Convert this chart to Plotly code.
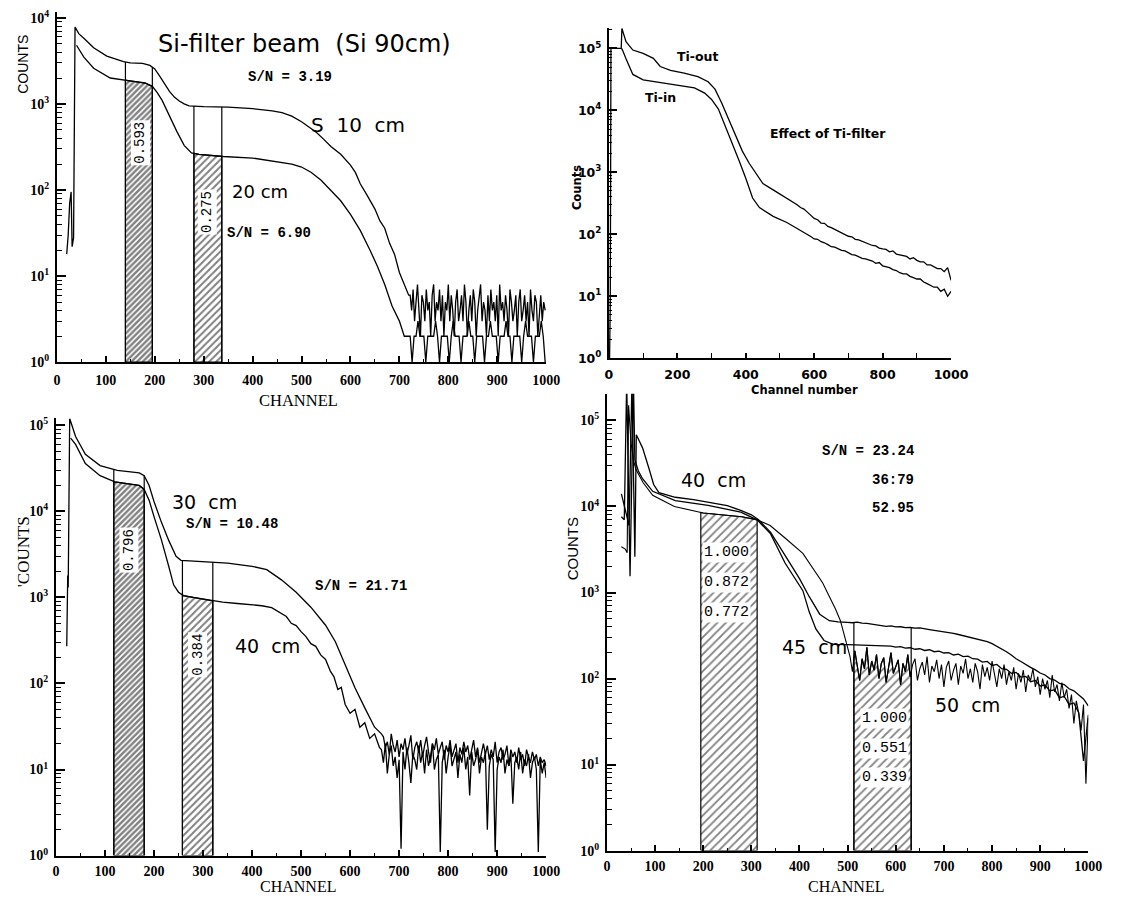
import numpy as np
import plotly.graph_objects as go

W, H = 1122, 905

# ======================= DATA =======================
# --- Top-left: Si-filter beam, S 10 cm (upper) and 20 cm (lower)
TL10_CH = [20, 23, 26, 29, 31, 34, 37, 40, 45, 55, 75, 102, 136, 150, 175, 190, 200, 210, 220, 230,
           240, 250, 260, 270, 300, 350, 400, 440, 460, 480, 500, 515, 530, 545, 560, 580, 600, 610,
           620, 635, 650, 660, 670, 680, 690, 700, 710, 719]
TL10_CT = [18, 30, 70, 95, 22, 28, 7800, 7200, 6500, 5800, 4500, 3600, 3100, 3000, 2950, 2800, 2550,
           2100, 1700, 1400, 1200, 1080, 1000, 950, 930, 920, 880, 830, 790, 720, 620, 540, 470, 390,
           320, 260, 195, 160, 118, 85, 60, 44, 36, 24, 18, 11, 8, 6]
TL10_TAIL_CH = list(range(722, 1001, 3))
TL10_TAIL_CT = [6, 4, 7, 3, 5, 8, 4, 2, 6, 5,
                3, 7, 4, 5, 2, 6, 8, 3, 5, 4,
                7, 3, 6, 2, 5, 4, 8, 3, 6, 4,
                2, 5, 7, 3, 4, 6, 3, 8, 5, 2,
                4, 6, 3, 7, 5, 2, 4, 6, 8, 3,
                5, 4, 2, 6, 3, 7, 4, 5, 3, 6,
                2, 8, 4, 5, 3, 6, 4, 2, 7, 5,
                3, 4, 6, 2, 5, 7, 3, 4, 6, 3,
                5, 2, 7, 4, 3, 6, 5, 2, 4, 6,
                3, 5, 4]

TL20_CH = [40, 55, 75, 109, 149, 180, 195, 205, 215, 230, 245, 260, 275, 290, 340, 400, 450, 480,
           500, 520, 540, 560, 580, 600, 620, 640, 655, 670, 685, 700, 710]
TL20_CT = [4800, 3500, 2600, 2000, 1850, 1750, 1600, 1350, 1100, 720, 480, 330, 270, 260, 245, 235,
           215, 200, 185, 160, 130, 100, 75, 52, 34, 20, 13, 8, 4.5, 3, 2]
TL20_TAIL_CH = list(range(714, 1001, 4))
TL20_TAIL_CT = [2, 2, 2, 1, 2, 2, 3, 2, 2, 2,
                1, 2, 2, 2, 2, 3, 2, 1, 2, 2,
                2, 2, 1, 2, 3, 2, 2, 2, 1, 2,
                2, 2, 3, 2, 2, 1, 2, 2, 2, 2,
                1, 2, 2, 3, 2, 2, 2, 1, 2, 2,
                2, 3, 2, 2, 1, 2, 2, 2, 2, 1,
                2, 3, 2, 2, 2, 1, 2, 2, 2, 3,
                2, 1]
TL_WINDOWS = [(140, 195), (280, 337)]

# --- Top-right: effect of Ti-filter
TR_OUT_CH = [2, 4, 6, 20, 36, 38, 50, 70, 100, 130, 150, 180, 220, 260, 290, 310, 330, 350, 370,
             390, 410, 430, 450, 480, 520, 550]
TR_OUT_CT = [1, 8, 1e5, 1e5, 1e5, 2.1e5, 1.28e5, 9.4e4, 8.3e4, 6.9e4, 5.1e4, 4.4e4, 4.0e4, 3.5e4,
             2.9e4, 2.2e4, 1.3e4, 7.2e3, 3.9e3, 2.2e3, 1.4e3, 960, 660, 520, 385, 300]
TR_OUT_TAIL_CH = list(range(560, 1001, 10))
TR_OUT_TAIL_CT = [270, 255, 228, 205, 180, 172, 152, 150, 134, 128, 120, 111, 106, 100, 93, 91, 83,
                  81, 77, 73, 71, 66, 65, 60, 58, 57, 52, 54, 48, 47, 46, 44, 40, 42, 38, 36, 36,
                  32, 32, 30, 28, 28, 25, 29, 18]
TR_IN_CH = [37, 40, 50, 60, 70, 100, 150, 200, 250, 280, 300, 320, 340, 360, 380, 400, 420, 440,
            480, 520, 550]
TR_IN_CT = [1e5, 9.3e4, 6.8e4, 5.1e4, 3.8e4, 3.1e4, 2.8e4, 2.6e4, 2.3e4, 1.9e4, 1.5e4, 1.05e4,
            5.6e3, 3.1e3, 1.57e3, 800, 385, 270, 195, 155, 125]
TR_IN_TAIL_CH = list(range(560, 1001, 10))
TR_IN_TAIL_CT = [115, 105, 100, 92, 84, 83, 76, 73, 68, 63, 62, 58, 55, 54, 50, 47, 46, 43, 41, 40,
                 38, 37, 34, 35, 31, 30, 29, 27, 26, 24, 23, 23, 21, 20, 19, 19, 17, 16, 15, 14,
                 14, 12, 13, 10, 12]

# --- Bottom-left: 30 cm (upper) and 40 cm (lower)
BL30_CH = [22, 24, 25, 28, 40, 60, 90, 125, 150, 170, 180, 190, 200, 215, 230, 245, 255, 300, 350,
           400, 430, 460, 490, 520, 550, 570, 590, 610, 630, 650, 664]
BL30_CT = [270, 1800, 1300, 1.2e5, 7.4e4, 4.6e4, 3.4e4, 3.0e4, 2.9e4, 2.8e4, 2.6e4, 2.0e4, 1.3e4,
           7.5e3, 4.6e3, 3.0e3, 2.7e3, 2.6e3, 2.5e3, 2.3e3, 2.1e3, 1.6e3, 1.15e3, 770, 475, 305,
           165, 89, 52, 31, 26]
BL30_TAIL_CH = list(range(668, 1001, 4))
BL30_TAIL_CT = [24, 18, 21, 15, 26, 19, 16, 22, 14, 20,
                17, 23, 15, 19, 25, 13, 18, 21, 16, 22,
                14, 19, 24, 16, 12, 20, 17, 23, 15, 18,
                21, 13, 19, 16, 22, 14, 17, 20, 12, 18,
                15, 21, 16, 19, 13, 17, 22, 14, 18, 12,
                16, 20, 15, 19, 13, 17, 14, 21, 12, 16,
                18, 13, 15, 19, 11, 17, 14, 16, 12, 18,
                13, 15, 11, 17, 14, 12, 16, 13, 15, 11,
                14, 12, 13, 11]
BL40_CH = [30, 40, 60, 90, 120, 150, 170, 180, 190, 200, 215, 230, 240, 250, 260, 280, 300, 320,
           340, 370, 400, 420, 440, 460, 470, 480, 490, 500, 510, 520, 530, 540, 550, 560, 567,
           575, 582, 590, 600, 610, 620, 630, 640, 650, 660]
BL40_CT = [7.1e4, 6.0e4, 3.6e4, 2.6e4, 2.2e4, 2.1e4, 2.0e4, 1.8e4, 1.35e4, 8.7e3, 4.7e3, 2.3e3,
           1.4e3, 1.15e3, 1.05e3, 1.0e3, 960, 910, 880, 850, 820, 800, 760, 640, 600, 500, 470,
           400, 350, 290, 270, 215, 190, 138, 120, 85, 90, 57, 45, 50, 31, 35, 23, 26, 18]
BL40_TAIL_CH = list(range(664, 1001, 4))
BL40_TAIL_CT = [17, 12, 20, 9, 15, 19, 11, 14, 8, 13,
                1.2, 16, 10, 18, 12, 7, 15, 13, 10, 19,
                12, 16, 9, 17, 11, 14, 20, 10, 13, 15,
                1.1, 12, 17, 9, 14, 19, 11, 13, 16, 8,
                15, 12, 18, 10, 14, 5, 16, 11, 13, 17,
                9, 14, 12, 16, 2, 11, 15, 13, 1.1, 10,
                14, 12, 17, 9, 13, 11, 15, 4, 12, 14,
                10, 16, 9, 13, 11, 15, 8, 12, 14, 10,
                1.1, 13, 9, 12, 8]
BL_WINDOWS = [(118, 180), (258, 320)]

# --- Bottom-right: 40 cm, 45 cm, 50 cm
BR40_CH = [30, 36, 41, 46, 52, 58, 61, 74, 87, 97, 108, 142, 180, 210, 250, 278, 300, 315, 340,
           370, 400, 420, 442, 462, 480, 500]
BR40_CT = [1.4e4, 1.0e4, 7.5e3, 6e3, 2.8e5, 2.6e3, 6.8e4, 4.8e4, 2.8e4, 1.8e4, 1.45e4, 1.28e4,
           1.2e4, 1.12e4, 1.02e4, 9.0e3, 8.0e3, 7.0e3, 5.0e3, 2.7e3, 1.45e3, 900, 560, 470, 455, 450]
BR40_TAIL_CH = list(range(510, 1001, 10))
BR40_TAIL_CT = [445, 452, 440, 438, 430, 425, 418, 405, 410, 398, 400, 390, 392, 385, 388, 376,
                370, 362, 356, 350, 342, 335, 325, 315, 305, 298, 290, 280, 268, 255, 238, 222,
                205, 188, 170, 158, 145, 135, 126, 116, 110, 100, 96, 88, 85, 76, 72, 64, 58, 48]
BR45_CH = [30, 36, 41, 48, 55, 58, 65, 74, 95, 142, 210, 278, 312, 340, 370, 407, 420, 434, 451,
           470, 500, 520, 550, 585]
BR45_CT = [7.6e3, 7e3, 2.8e5, 1.55e3, 2.8e5, 3.5e4, 2.6e4, 2.1e4, 1.5e4, 1.17e4, 1.03e4, 8.6e3,
           7.0e3, 4.8e3, 2.2e3, 1.05e3, 600, 378, 277, 250, 248, 245, 242, 240]
BR45_TAIL_CH = list(range(590, 1001, 10))
BR45_TAIL_CT = [238, 232, 235, 226, 228, 219, 222, 212, 216, 205, 208, 198, 200, 188, 192, 180,
                182, 170, 168, 155, 158, 142, 146, 130, 128, 115, 118, 104, 106, 92, 95, 82, 84,
                72, 74, 60, 62, 50, 52, 40, 11, 38]
BR50_CH = [30, 38, 42, 45, 50, 55, 60, 75, 95, 140, 200, 250, 280, 312, 339, 370, 407, 448, 475,
           485, 497, 502]
BR50_CT = [3.4e3, 3.2e3, 2.9e3, 1.5e5, 5.5e4, 3.5e4, 2.7e4, 1.9e4, 1.35e4, 1.0e4, 8.4e3, 7.9e3,
           7.6e3, 7.0e3, 6.0e3, 4.3e3, 2.85e3, 1.3e3, 640, 470, 265, 200]
BR50_TAIL_CH = list(range(505, 1001, 5))
BR50_TAIL_CT = [180, 120, 210, 140, 95, 170, 130, 230, 110, 160,
                125, 190, 100, 150, 175, 90, 140, 200, 115, 135,
                165, 85, 150, 120, 190, 105, 145, 170, 95, 130,
                155, 110, 180, 90, 140, 120, 165, 100, 145, 80,
                135, 160, 95, 125, 150, 85, 140, 115, 170, 100,
                130, 90, 150, 120, 75, 145, 105, 135, 95, 160,
                110, 80, 130, 100, 145, 85, 120, 95, 135, 75,
                115, 90, 125, 70, 110, 95, 130, 80, 105, 65,
                100, 75, 95, 60, 110, 70, 85, 55, 90, 60,
                75, 45, 65, 30, 55, 40, 25, 50, 6, 35]
BR_WINDOWS = [(195, 312), (513, 632)]

X_TICKS = list(range(0, 1001, 100))
TR_X_TICKS = list(range(0, 1001, 200))


def join(a_ch, a_ct, b_ch, b_ct):
    assert len(a_ch) == len(a_ct) and len(b_ch) == len(b_ct)
    return list(a_ch) + list(b_ch), list(a_ct) + list(b_ct)


TL10 = join(TL10_CH, TL10_CT, TL10_TAIL_CH, TL10_TAIL_CT)
TL20 = join(TL20_CH, TL20_CT, TL20_TAIL_CH, TL20_TAIL_CT)
TROUT = join(TR_OUT_CH, TR_OUT_CT, TR_OUT_TAIL_CH, TR_OUT_TAIL_CT)
TRIN = join(TR_IN_CH, TR_IN_CT, TR_IN_TAIL_CH, TR_IN_TAIL_CT)
BL30 = join(BL30_CH, BL30_CT, BL30_TAIL_CH, BL30_TAIL_CT)
BL40 = join(BL40_CH, BL40_CT, BL40_TAIL_CH, BL40_TAIL_CT)
BR40 = join(BR40_CH, BR40_CT, BR40_TAIL_CH, BR40_TAIL_CT)
BR45 = join(BR45_CH, BR45_CT, BR45_TAIL_CH, BR45_TAIL_CT)
BR50 = join(BR50_CH, BR50_CT, BR50_TAIL_CH, BR50_TAIL_CT)

# ======================= FIGURE =======================
SERIF = "Liberation Serif"
SANS = "Liberation Sans"
DEJAVU = "DejaVu Sans"
MONO = "Liberation Mono"

fig = go.Figure()


def curve(series, xa, ya, width=1.3):
    fig.add_trace(go.Scatter(x=series[0], y=series[1], mode="lines",
                             line=dict(color="black", width=width),
                             xaxis=xa, yaxis=ya, showlegend=False, hoverinfo="skip"))


def top_at(series, c):
    ch = np.asarray(series[0], float)
    lg = np.log10(np.asarray(series[1], float))
    return float(10 ** np.interp(c, ch, lg))


def hatch(series, a, b, xa, ya, size, solidity):
    ch = np.asarray(series[0], float)
    ct = np.asarray(series[1], float)
    inside = (ch > a) & (ch < b)
    xs = [a, a] + ch[inside].tolist() + [b, b, a]
    ys = [1, top_at(series, a)] + ct[inside].tolist() + [top_at(series, b), 1, 1]
    fig.add_trace(go.Scatter(x=xs, y=ys, mode="lines", fill="toself", fillcolor="white",
                             fillpattern=dict(shape="/", fgcolor="black", bgcolor="white",
                                              size=size, solidity=solidity),
                             line=dict(color="black", width=1.2),
                             xaxis=xa, yaxis=ya, showlegend=False, hoverinfo="skip"))


def edge(series, c, xa, ya):
    fig.add_trace(go.Scatter(x=[c, c], y=[1, top_at(series, c)], mode="lines",
                             line=dict(color="black", width=1.2),
                             xaxis=xa, yaxis=ya, showlegend=False, hoverinfo="skip"))


# hatched windows (drawn first)
hatch(TL20, *TL_WINDOWS[0], "x", "y", 4, 0.6)
hatch(TL20, *TL_WINDOWS[1], "x", "y", 5, 0.4)
for a, b in TL_WINDOWS:
    edge(TL10, a, "x", "y")
    edge(TL10, b, "x", "y")

hatch(BL40, *BL_WINDOWS[0], "x3", "y3", 4, 0.6)
hatch(BL40, *BL_WINDOWS[1], "x3", "y3", 5, 0.4)
for a, b in BL_WINDOWS:
    edge(BL30, a, "x3", "y3")
    edge(BL30, b, "x3", "y3")

hatch(BR50, *BR_WINDOWS[0], "x4", "y4", 6, 0.3)
hatch(BR50, *BR_WINDOWS[1], "x4", "y4", 6, 0.3)
edge(BR40, BR_WINDOWS[1][0], "x4", "y4")
edge(BR40, BR_WINDOWS[1][1], "x4", "y4")

# spectra
curve(TL10, "x", "y")
curve(TL20, "x", "y")
curve(TROUT, "x2", "y2")
curve(TRIN, "x2", "y2")
curve(BL30, "x3", "y3")
curve(BL40, "x3", "y3")
curve(BR40, "x4", "y4")
curve(BR45, "x4", "y4")
curve(BR50, "x4", "y4", width=1.1)


# ---------------- axes ----------------
def px_dom_x(x0, x1):
    return [x0 / W, x1 / W]


def px_dom_y(ytop, ybot):
    return [1 - ybot / H, 1 - ytop / H]


def xaxis(dom, anchor, ticks_major, minor_vals, font, ticklen=6, minorlen=3, standoff=4):
    return dict(domain=dom, anchor=anchor, range=[0, 1000], tickmode="array",
                tickvals=ticks_major, ticktext=[str(v) for v in ticks_major],
                ticks="inside", ticklen=ticklen, tickwidth=1.5, tickcolor="black",
                showline=True, linecolor="black", linewidth=2, showgrid=False, zeroline=False,
                tickfont=font, ticklabelstandoff=standoff,
                minor=dict(tickvals=minor_vals, ticks="inside", ticklen=minorlen, tickwidth=1.2,
                           tickcolor="black", showgrid=False))


def yaxis(dom, anchor, top, font, ticklen=9, minorlen=5):
    decades = list(range(0, int(np.floor(top)) + 1))
    minor_vals = [m * 10 ** d for d in decades for m in range(2, 10) if np.log10(m * 10 ** d) <= top]
    return dict(type="log", domain=dom, anchor=anchor, range=[0, top], tickmode="array",
                tickvals=[10 ** d for d in decades],
                ticktext=[f"10<sup>{d}</sup>" for d in decades],
                ticks="inside", ticklen=ticklen, tickwidth=1.5, tickcolor="black",
                showline=True, linecolor="black", linewidth=2, showgrid=False, zeroline=False,
                tickfont=font, ticklabelstandoff=3,
                minor=dict(tickvals=minor_vals, ticks="inside", ticklen=minorlen, tickwidth=1,
                           tickcolor="black", showgrid=False))


serif_tick = dict(family=SERIF, size=14, color="black", weight="bold")
sans_tick = dict(family=DEJAVU, size=12.5, color="black", weight="bold")
minor50 = list(range(50, 1000, 100))
minor100 = list(range(100, 1000, 200))

fig.update_layout(
    width=W, height=H, autosize=False, margin=dict(l=0, r=0, t=0, b=0),
    paper_bgcolor="white", plot_bgcolor="white", showlegend=False,
    xaxis=xaxis(px_dom_x(54, 553), "y", X_TICKS, minor50, serif_tick),
    yaxis=yaxis(px_dom_y(8, 363), "x", 4.069, serif_tick),
    xaxis2=xaxis(px_dom_x(617, 966), "y2", TR_X_TICKS, minor100, sans_tick, ticklen=5, minorlen=5),
    yaxis2=yaxis(px_dom_y(24, 359), "x2", 5.334, sans_tick, ticklen=8, minorlen=3),
    xaxis3=xaxis(px_dom_x(53, 553), "y3", X_TICKS, minor50, serif_tick, standoff=2),
    yaxis3=yaxis(px_dom_y(420, 863), "x3", 5.08, serif_tick),
    xaxis4=xaxis(px_dom_x(615, 1106), "y4", X_TICKS, minor50, serif_tick, standoff=2),
    yaxis4=yaxis(px_dom_y(395, 858), "x4", 5.31, serif_tick),
)

NB = "\u00a0"
ann = []


def t(text, x, y, xref, yref, size, family, bold=False, angle=0, bg=None, xanchor="center"):
    d = dict(text=text, x=x, y=y, xref=xref, yref=yref, showarrow=False, textangle=angle,
             xanchor=xanchor, yanchor="middle",
             font=dict(family=family, size=size, color="black", weight="bold" if bold else "normal"))
    if bg:
        d.update(bgcolor=bg, borderpad=1)
    ann.append(d)


# top-left
t(f"Si-filter beam{NB}{NB}(Si 90cm)", 507, 3.70, "x", "y", 24, DEJAVU)
t("S/N = 3.19", 477, 3.31, "x", "y", 14, MONO, bold=True)
t(f"S{NB}{NB}10{NB}{NB}cm", 616, 2.76, "x", "y", 20, DEJAVU)
t("20 cm", 415, 1.98, "x", "y", 18, DEJAVU)
t("S/N = 6.90", 433, 1.50, "x", "y", 14, MONO, bold=True)
t("0.593", 170, 2.55, "x", "y", 14, MONO, angle=-90, bg="white")
t("0.275", 308, 1.74, "x", "y", 14, MONO, angle=-90, bg="white")
t("COUNTS", 20 / W, 1 - 61 / H, "paper", "paper", 14, SANS, angle=-90)
t("CHANNEL", 493, 1 - 402 / H, "x", "paper", 16.5, SERIF)

# top-right
t("Ti-out", 258, 4.87, "x2", "y2", 12.5, DEJAVU, bold=True)
t("Ti-in", 151, 4.21, "x2", "y2", 12.5, DEJAVU, bold=True)
t("Effect of Ti-filter", 641, 3.62, "x2", "y2", 12.5, DEJAVU, bold=True)
t("Channel number", 571, 1 - 391 / H, "x2", "paper", 11.5, DEJAVU, bold=True)
t("Counts", 584 / W, 1 - 186 / H, "paper", "paper", 11.5, DEJAVU, bold=True, angle=-90)

# bottom-left
t(f"30{NB}{NB}cm", 302, 4.11, "x3", "y3", 19, DEJAVU)
t("S/N = 10.48", 360, 3.85, "x3", "y3", 14, MONO, bold=True)
t("S/N = 21.71", 623, 3.13, "x3", "y3", 14, MONO, bold=True)
t(f"40{NB}{NB}cm", 431, 2.43, "x3", "y3", 19, DEJAVU)
t("0.796", 149, 3.55, "x3", "y3", 14, MONO, angle=-90, bg="white")
t("0.384", 289, 2.33, "x3", "y3", 14, MONO, angle=-90, bg="white")
t("'COUNTS", 20 / W, 1 - 555 / H, "paper", "paper", 17, SERIF, angle=-90)
t("CHANNEL", 493, 1 - 894 / H, "x3", "paper", 16, SERIF)

# bottom-right
t("S/N = 23.24", 641, 4.65, "x4", "y4", 14, MONO, bold=True, xanchor="right")
t("36:79", 641, 4.31, "x4", "y4", 14, MONO, bold=True, xanchor="right")
t("52.95", 641, 3.98, "x4", "y4", 14, MONO, bold=True, xanchor="right")
t(f"40{NB}{NB}cm", 221, 4.31, "x4", "y4", 19, DEJAVU)
t(f"45{NB}{NB}cm", 431, 2.37, "x4", "y4", 19, DEJAVU)
t(f"50{NB}{NB}cm", 750, 1.69, "x4", "y4", 19, DEJAVU)
for lab, yy in zip(["1.000", "0.872", "0.772"], [3.46, 3.115, 2.77]):
    t(lab, 248, yy, "x4", "y4", 15, MONO, bg="white")
for lab, yy in zip(["1.000", "0.551", "0.339"], [1.535, 1.19, 0.85]):
    t(lab, 576, yy, "x4", "y4", 15, MONO, bg="white")
t("COUNTS", 580 / W, 1 - 552 / H, "paper", "paper", 15, SANS, angle=-90)
t("CHANNEL", 497, 1 - 894 / H, "x4", "paper", 16, SERIF)

fig.update_layout(annotations=ann)
fig.write_html("out.html")
